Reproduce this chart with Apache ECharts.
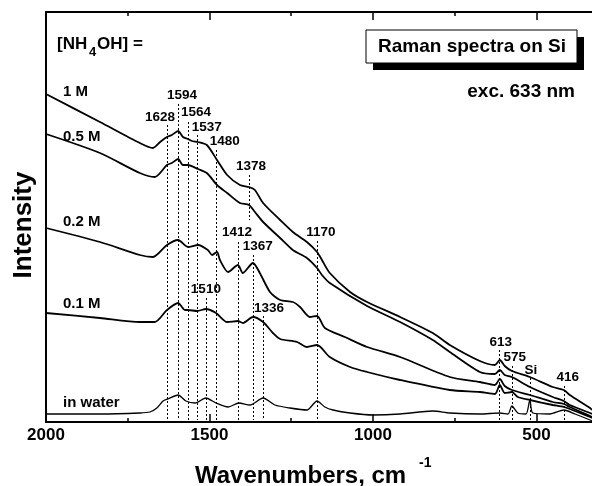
<!DOCTYPE html>
<html><head><meta charset="utf-8">
<script src="https://cdn.jsdelivr.net/npm/echarts@6/dist/echarts.min.js"></script>
<style>html,body{margin:0;padding:0;background:#fff;overflow:hidden}#c{width:592px;height:486px}</style>
</head><body><div id="c"></div>
<script>
// ---- data (wavenumber, intensity in arbitrary units) ----
const xTicks = [2000, 1500, 1000, 500];
const xMinorTicks = [1750, 1250, 750];
const s1M = [[2000,328],[1835,300],[1713,279],[1673,274],[1651,280],[1630,285],[1615,287],[1596,291],[1581,285],[1566,283],[1554,281],[1535,280],[1508,277],[1477,262],[1446,247],[1407,237],[1379,235],[1361,232],[1336,219],[1284,202],[1245,190],[1202,180],[1171,170],[1156,162],[1132,149],[1070,130],[1018,120],[917,105],[817,89],[765,77],[673,61],[627,57],[612,62],[597,56],[575,51],[520,45],[450,35],[416,32],[398,27],[336,14],[330,12]];
const s05M = [[2000,288],[1835,269],[1713,249],[1667,245],[1630,257],[1615,259],[1596,263],[1581,257],[1566,257],[1535,253],[1508,249],[1477,237],[1446,229],[1407,219],[1379,217],[1361,210],[1336,200],[1284,184],[1245,172],[1202,164],[1171,154],[1156,147],[1132,139],[1018,116],[917,100],[817,82],[765,70],[673,50],[627,48],[612,52],[597,47],[575,45],[520,35],[450,25],[416,21],[398,17],[336,9],[330,8]];
const s02M = [[2000,194],[1835,180],[1713,167],[1673,165],[1630,177],[1596,182],[1566,175],[1535,177],[1505,172],[1492,167],[1477,170],[1468,162],[1443,150],[1413,157],[1398,149],[1367,159],[1346,149],[1315,130],[1284,122],[1245,120],[1223,115],[1193,105],[1171,106],[1147,94],[1086,85],[1018,75],[917,65],[765,45],[673,40],[627,37],[612,43],[597,36],[575,32],[520,27],[450,20],[416,18],[398,15],[336,6],[330,5]];
const s01M = [[2000,109],[1835,104],[1713,100],[1667,100],[1630,112],[1596,119],[1575,112],[1566,112],[1538,111],[1511,113],[1480,109],[1446,100],[1413,101],[1398,99],[1367,105],[1336,100],[1306,89],[1284,83],[1232,80],[1202,75],[1171,77],[1132,65],[1070,55],[1018,50],[917,42],[765,32],[673,30],[627,28],[612,37],[597,29],[575,30],[557,25],[520,22],[450,17],[416,15],[336,5],[330,4]];
const sWater = [[2000,8],[1835,8],[1713,9],[1682,10],[1661,14],[1642,21],[1627,23],[1596,27],[1572,21],[1544,19],[1511,24],[1480,19],[1443,15],[1410,19],[1376,17],[1336,24],[1300,17],[1254,14],[1202,12],[1171,21],[1147,15],[1122,12],[1070,9],[1000,7],[917,8],[817,11],[765,9],[673,8],[612,9],[587,8],[575,16],[557,9],[532,8],[520,22],[511,9],[459,8],[416,12],[382,8],[336,2],[330,1]];
const peakText = ['1628','1594','1564','1537','1480','1378','1412','1367','1510','1336','1170','613','575','Si','416'];
const peakWn = [1628,1594,1564,1537,1480,1378,1412,1367,1510,1336,1170,613,575,520,416];
const peakTop = [297,318,300,287,272,247,180,167,124,106,181,72,56,44,36];
const peakBottom = [2,2,2,2,2,202,2,2,2,2,2,2,2,2,2];
const peakLabelWn = [1651,1584,1541,1508,1453,1373,1416,1352,1511,1318,1159,609,566,517,404];
const peakLabelVal = [305,327,310,295,281,256,190,176,133,114,190,80,65,52,45];
const seriesNames = ['1 M','0.5 M','0.2 M','0.1 M','in water'];

const FONT = "'Liberation Sans', Arial, Helvetica, sans-serif";
const chart = echarts.init(document.getElementById('c'), null, {renderer:'canvas'});

const lineSeries = [s1M, s05M, s02M, s01M, sWater].map((d, i) => ({
  type: 'line', name: seriesNames[i], data: d, showSymbol: false, symbol: 'none',
  smooth: 0.25, silent: true, animation: false, clip: true,
  lineStyle: {color: '#000', width: i === 4 ? 1.3 : 1.8}
}));
lineSeries[4].markLine = {
  silent: true, animation: false, symbol: ['none','none'],
  label: {show: false},
  lineStyle: {color: '#000', width: 1, type: [2, 2]},
  data: peakWn.map((w, i) => [{coord: [w, peakTop[i]]}, {coord: [w, peakBottom[i]]}])
};
const labelSeries = {
  type: 'scatter', symbolSize: 0, silent: true, animation: false,
  itemStyle: {color: '#000', opacity: 1},
  data: peakText.map((t, i) => [peakLabelWn[i], peakLabelVal[i], t]),
  label: {show: true, position: 'inside', formatter: p => p.data[2],
    color: '#000', textBorderWidth: 0, opacity: 1,
    fontFamily: FONT, fontWeight: 'bold', fontSize: 13.5}
};

const xAxisBase = (pos, ticks, len, showLine, showLabel) => ({
  type: 'value', inverse: true, min: 330, max: 2000, position: pos,
  axisLine: {show: showLine, onZero: false, lineStyle: {color: '#000', width: 2}},
  axisTick: {show: true, inside: true, length: len, customValues: ticks, lineStyle: {color: '#000', width: 1.5}},
  axisLabel: {show: showLabel, customValues: ticks, formatter: v => String(v), margin: 5,
    color: '#000', fontFamily: FONT, fontWeight: 'bold', fontSize: 17},
  splitLine: {show: false}
});

const txt = (x, y, s, size, align, extra) => Object.assign({
  type: 'text', x: x, y: y, silent: true,
  style: {text: s, fill: '#000', font: 'bold ' + size + 'px ' + FONT, textAlign: align || 'left', textVerticalAlign: 'middle'}
}, extra || {});

chart.setOption({
  animation: false,
  backgroundColor: '#fff',
  grid: {left: 46, top: 12, right: 0, bottom: 64, containLabel: false},
  xAxis: [
    xAxisBase('bottom', xTicks, 8, true, true),
    xAxisBase('top', xTicks, 8, true, false),
    xAxisBase('bottom', xMinorTicks, 4, false, false),
    xAxisBase('top', xMinorTicks, 4, false, false)
  ],
  yAxis: {type: 'value', min: 0, max: 410,
    axisLine: {show: true, lineStyle: {color: '#000', width: 2}},
    axisTick: {show: false}, axisLabel: {show: false}, splitLine: {show: false}},
  series: lineSeries.concat([labelSeries]),
  graphic: [
    txt(24, 225, 'Intensity', 26, 'center', {rotation: Math.PI / 2}),
    txt(195, 476, 'Wavenumbers, cm', 24, 'left'),
    txt(419, 463, '-1', 14, 'left'),
    txt(57, 44, '[NH', 17, 'left'),
    txt(89, 52, '4', 13, 'left'),
    txt(97, 44, 'OH] =', 17, 'left'),
    txt(63, 92, seriesNames[0], 15, 'left'),
    txt(63, 137, seriesNames[1], 15, 'left'),
    txt(63, 222, seriesNames[2], 15, 'left'),
    txt(63, 304, seriesNames[3], 15, 'left'),
    txt(63, 403, seriesNames[4], 15, 'left'),
    {type: 'rect', x: 373, y: 37, shape: {width: 211, height: 33}, style: {fill: '#000'}, silent: true},
    {type: 'rect', x: 366, y: 30, shape: {width: 211, height: 33}, style: {fill: '#fff', stroke: '#000', lineWidth: 1}, silent: true},
    txt(472, 47, 'Raman spectra on Si', 19, 'center'),
    txt(575, 92, 'exc. 633 nm', 19, 'right')
  ]
});
</script></body></html>
